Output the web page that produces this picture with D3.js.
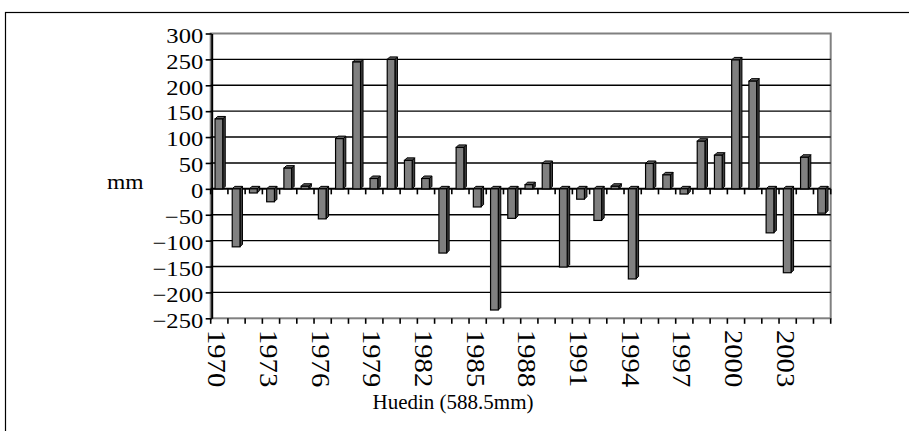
<!DOCTYPE html>
<html>
<head>
<meta charset="utf-8">
<script src="https://cdn.jsdelivr.net/npm/d3@7"></script>
<style>
    body { margin: 0; background: #fff; }
    svg { display: block; }
    text { font-family: 'Liberation Serif', 'Times New Roman', serif; fill: #000; }
</style>
</head>
<body>
<div id="chart"></div>
<script>
// Chart data
var years = [1970, 1971, 1972, 1973, 1974, 1975, 1976, 1977, 1978, 1979,
             1980, 1981, 1982, 1983, 1984, 1985, 1986, 1987, 1988, 1989,
             1990, 1991, 1992, 1993, 1994, 1995, 1996, 1997, 1998, 1999,
             2000, 2001, 2002, 2003, 2004, 2005];
var deviations = [135, -112, -8, -25, 40, 5, -58, 97, 245, 20,
                  250, 55, 20, -124, 80, -35, -234, -57, 8, 49,
                  -151, -20, -61, 5, -174, 49, 27, -10, 92, 65,
                  249, 208, -85, -162, 61, -47];
var yTicks = [-250, -200, -150, -100, -50, 0, 50, 100, 150, 200, 250, 300];
var labelYears = [1970, 1973, 1976, 1979, 1982, 1985, 1988, 1991, 1994, 1997, 2000, 2003];
var yTitle = 'mm';
var xTitle = 'Huedin (588.5mm)';

var width = 909, height = 431;
var plot = {left: 210.7, right: 830.7, top: 33.5, bottom: 318.3};

var svg = d3.select('#chart')
    .append('svg')
    .attr('width', width)
    .attr('height', height);

// Outer chart frame (runs off the right and bottom edge)
svg.append('rect')
    .attr('x', 5.5)
    .attr('y', 12.5)
    .attr('width', 950)
    .attr('height', 450)
    .attr('fill', 'none')
    .attr('stroke', '#000')
    .attr('stroke-width', 1.2);

// Scales
var x = d3.scaleBand().domain(years).range([plot.left, plot.right]).padding(0);
var y = d3.scaleLinear().domain([-250, 300]).range([plot.bottom, plot.top]);
var bw = x.step();

// Plot area border
svg.append('rect')
    .attr('x', plot.left)
    .attr('y', plot.top)
    .attr('width', plot.right - plot.left)
    .attr('height', plot.bottom - plot.top)
    .attr('fill', 'none')
    .attr('stroke', '#808080')
    .attr('stroke-width', 2);

// Gridlines
svg.append('g')
    .selectAll('line')
    .data(yTicks.filter(function(d) { return d > -250 && d < 300; }))
    .enter()
    .append('line')
        .attr('x1', plot.left)
        .attr('x2', plot.right)
        .attr('y1', function(d) { return y(d); })
        .attr('y2', function(d) { return y(d); })
        .attr('stroke', '#000')
        .attr('stroke-width', function(d) { return d === 0 ? 2 : 1.4; });

// Category ticks at the zero line and at the bottom
var bounds = years.map(function(d) { return x(d); }).concat([plot.right]);
[y(0), y(-250)].forEach(function(yy) {
    svg.append('g')
        .selectAll('line')
        .data(bounds)
        .enter()
        .append('line')
            .attr('x1', function(d) { return d; })
            .attr('x2', function(d) { return d; })
            .attr('y1', yy)
            .attr('y2', yy + 5.5)
            .attr('stroke', '#000')
            .attr('stroke-width', 1.6);
});

// Bars with a small 3D side
var depth = 2.5;
var bars = svg.append('g')
    .selectAll('g')
    .data(years.map(function(d, i) { return {year: d, value: deviations[i]}; }))
    .enter()
    .append('g');

bars.each(function(d) {
    var g = d3.select(this);
    var x0 = x(d.year) + bw * 0.25,
        x1 = x0 + bw * 0.45,
        yTop = y(Math.max(d.value, 0)),
        yBot = y(Math.min(d.value, 0));
    // side face
    g.append('path')
        .attr('d', 'M' + x1 + ',' + yTop + 'L' + (x1 + depth) + ',' + (yTop - depth) +
                   'L' + (x1 + depth) + ',' + (yBot - depth) + 'L' + x1 + ',' + yBot + 'Z')
        .attr('fill', '#404040')
        .attr('stroke', '#000')
        .attr('stroke-width', 1);
    // top face
    g.append('path')
        .attr('d', 'M' + x0 + ',' + yTop + 'L' + (x0 + depth) + ',' + (yTop - depth) +
                   'L' + (x1 + depth) + ',' + (yTop - depth) + 'L' + x1 + ',' + yTop + 'Z')
        .attr('fill', '#606060')
        .attr('stroke', '#000')
        .attr('stroke-width', 1);
    // front face
    g.append('rect')
        .attr('x', x0)
        .attr('y', yTop)
        .attr('width', x1 - x0)
        .attr('height', yBot - yTop)
        .attr('fill', '#808080')
        .attr('stroke', '#000')
        .attr('stroke-width', 1.2);
});

// Y axis
var yAxis = d3.axisLeft(y).tickValues(yTicks).tickSize(6).tickSizeOuter(0);
var yG = svg.append('g')
    .attr('transform', 'translate(' + (plot.left + 1) + ',0)')
    .call(yAxis);
yG.select('.domain').attr('stroke', '#000').attr('stroke-width', 2);
yG.selectAll('.tick line').attr('stroke', '#000').attr('stroke-width', 1.6);
yG.selectAll('.tick text')
    .attr('x', -8.5 / 1.17)
    .attr('dy', '0.32em')
    .attr('transform', 'translate(0,2) scale(1.17,1)')
    .style('font-family', "'Liberation Serif', serif")
    .style('font-size', '21px');

// Year labels, rotated
svg.append('g')
    .selectAll('text')
    .data(labelYears)
    .enter()
    .append('text')
        .attr('transform', function(d) {
            return 'translate(' + (x(d) + bw / 2 - 2) + ',' + 330 + ') rotate(90) scale(1.1,1)';
        })
        .attr('dy', '0.34em')
        .style('font-size', '26px')
        .text(function(d) { return d; });

// Axis titles
svg.append('text')
    .attr('transform', 'translate(107,189) scale(1.12,1)')
    .style('font-size', '21px')
    .text(yTitle);

svg.append('text')
    .attr('x', 453)
    .attr('y', 409)
    .attr('text-anchor', 'middle')
    .style('font-size', '21px')
    .text(xTitle);
</script>
</body>
</html>
